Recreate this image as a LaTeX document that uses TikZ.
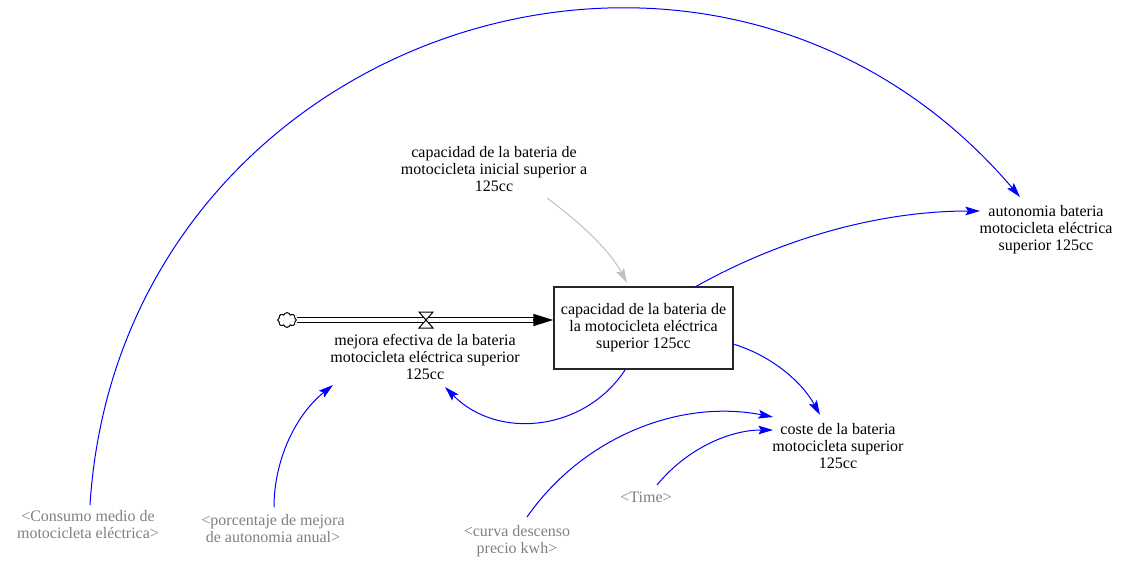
\documentclass[tikz,border=0pt]{standalone}
\usepackage{fontspec}
\setmainfont{Liberation Serif}
\usetikzlibrary{arrows.meta,shapes.symbols}
\definecolor{shadowtext}{RGB}{128,128,128}
\definecolor{linkblue}{RGB}{0,0,255}
\definecolor{lightlink}{RGB}{192,192,192}
\begin{document}
\begin{tikzpicture}[x=0.75pt,y=-0.75pt,
  var/.style={align=center,inner sep=0pt,font=\fontsize{12}{12.75}\selectfont},
  shadowvar/.style={var,text=shadowtext},
  stockbox/.style={var,draw=black!85,line width=1pt,minimum width=134.25pt,minimum height=61.5pt},
  link/.style={draw=linkblue,line width=0.75pt,-{Stealth[length=11pt,width=6.5pt,inset=2pt]}},
  graylink/.style={draw=lightlink,line width=0.75pt,-{Stealth[length=11pt,width=6.5pt,inset=2pt]}},
  pipe/.style={draw=black,double=white,double distance=3pt,line width=0.75pt},
  sourcecloud/.style={cloud,draw=black,cloud puffs=8,aspect=1.3,minimum width=14pt,minimum height=11pt,inner sep=0pt,line width=0.75pt}
]
\useasboundingbox (0,0) rectangle (1123,560);

% nodes
\node[stockbox] (box) at (643.5,328) {capacidad de la bateria de\\la motocicleta eléctrica\\superior 125cc};
\node[var] (init) at (494,169) {capacidad de la bateria de\\motocicleta inicial superior a\\125cc};
\node[var] (flow) at (425,357) {mejora efectiva de la bateria\\motocicleta eléctrica superior\\125cc};
\node[var] (auto) at (1046,230) {autonomia bateria\\motocicleta eléctrica\\superior 125cc};
\node[var] (coste) at (838,446) {coste de la bateria\\motocicleta superior\\125cc};
\node[shadowvar] (cons) at (88,525) {<Consumo medio de\\motocicleta eléctrica>};
\node[shadowvar] (porc) at (273,529) {<porcentaje de mejora\\de autonomia anual>};
\node[shadowvar] (curva) at (517,541) {<curva descenso\\precio kwh>};
\node[shadowvar] (time) at (646,497) {<Time>};
\node[sourcecloud] (cloud) at (287,320) {};
\coordinate (valve) at (426,320);

% flow pipe
\draw[pipe] (cloud.east) -- ([shift={(-18,-8)}]box.west);
\draw[line width=1pt,-{Triangle[length=15pt,width=9pt]}] ([shift={(-20,-8)}]box.west) -- ([shift={(0,-8)}]box.west);
\draw[fill=white,line width=0.75pt] ([shift={(-7,-8)}]valve) -- ([shift={(7,-8)}]valve) -- ([shift={(-7,8)}]valve) -- ([shift={(7,8)}]valve) -- cycle;

% links
\draw[link] ([shift={(2,-20)}]cons.center) .. controls +(30,-473) and +(-309,-362) .. ([shift={(-26,-33)}]auto.center);
\draw[link] ([shift={(51.5,-41)}]box.center) .. controls +(87,-49) and +(-100,0) .. ([shift={(-66,-19)}]auto.center);
\draw[link] ([shift={(89.5,16)}]box.center) .. controls +(37,11) and +(-18.5,-34) .. ([shift={(-18,-31)}]coste.center);
\draw[link] ([shift={(-18.5,42)}]box.center) .. controls +(-41,62) and +(52,53) .. ([shift={(20,30)}]flow.center);
\draw[link] ([shift={(1,-22)}]porc.center) .. controls +(0,-47.5) and +(-37,29.5) .. ([shift={(-92,28)}]flow.center);
\draw[link] ([shift={(10,-24)}]curva.center) .. controls +(55,-79) and +(-94.5,-18.4) .. ([shift={(-65,-29)}]coste.center);
\draw[link] ([shift={(11,-12)}]time.center) .. controls +(28.5,-35) and +(-45,0) .. ([shift={(-65,-16)}]coste.center);
\draw[graylink] ([shift={(53,29)}]init.center) .. controls +(31,23) and +(-18,-34) .. ([shift={(-16.5,-45)}]box.center);
\end{tikzpicture}
\end{document}
